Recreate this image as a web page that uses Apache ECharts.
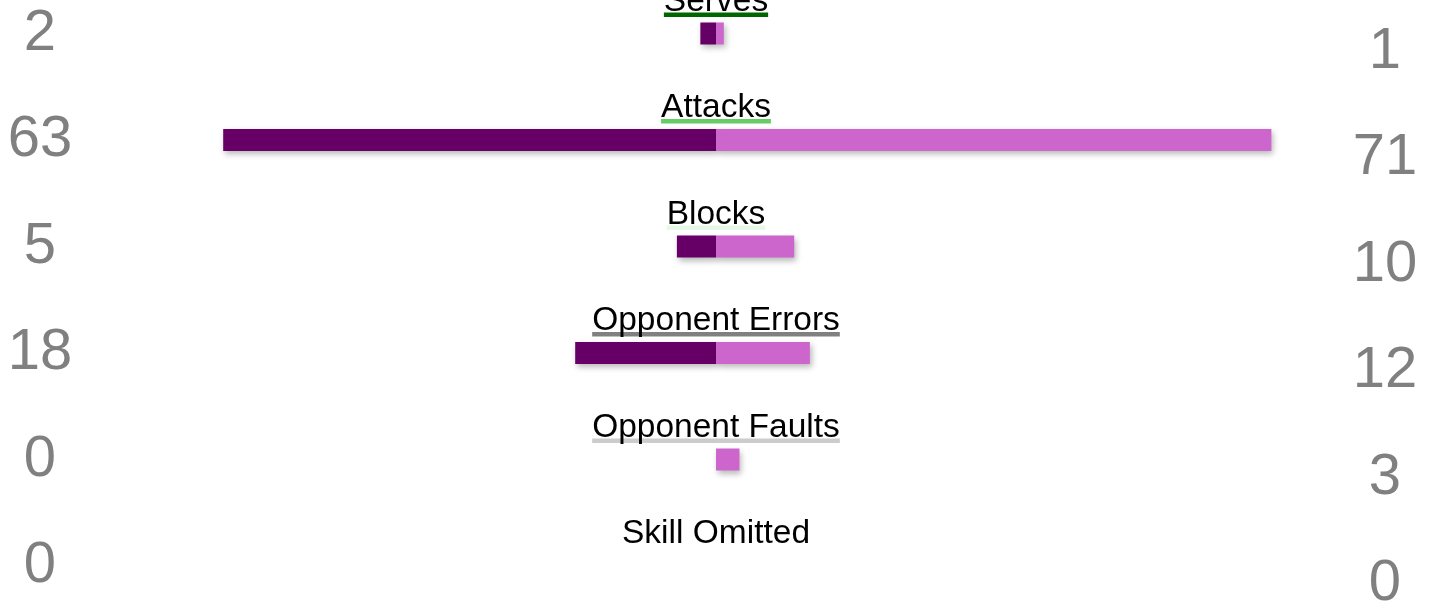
<!DOCTYPE html>
<html>
<head>
<meta charset="utf-8">
<style>
  html, body { margin: 0; padding: 0; background: #fff; }
  #chart { width: 1442px; height: 611px; }
</style>
<script src="https://cdn.jsdelivr.net/npm/echarts@6/dist/echarts.min.js"></script>
</head>
<body>
<div id="chart"></div>
<script>
// skill categories, top to bottom
const skills = ['Serves', 'Attacks', 'Blocks', 'Opponent Errors', 'Opponent Faults', 'Skill Omitted']
// left team (dark) and right team (light) points per skill
const homeValues = [2, 63, 5, 18, 0, 0]
const awayValues = [1, 71, 10, 12, 3, 0]
// underline colour under each skill name
const underlineColors = ['#006600', '#66cc66', '#e6f8e6', '#808080', '#cccccc', null]

const labelFont = '33.5px "Liberation Sans", Arial, sans-serif'
const measureCtx = document.createElement('canvas').getContext('2d')
measureCtx.font = labelFont
const textWidth = (t) => measureCtx.measureText(t).width

const barShadow = {
  shadowColor: 'rgba(0,0,0,0.28)',
  shadowBlur: 6,
  shadowOffsetX: 2,
  shadowOffsetY: 3
}

const chart = echarts.init(document.getElementById('chart'))

const option = {
  animation: false,
  grid: { left: 12, width: 1408, top: 33.5, bottom: 45, outerBoundsMode: 'none', containLabel: false },
  xAxis: {
    type: 'value',
    min: -90,
    max: 90,
    show: false
  },
  yAxis: [
    {
      type: 'category',
      data: skills,
      inverse: true,
      boundaryGap: false,
      axisLine: { show: false },
      axisTick: { show: false },
      splitLine: { show: false },
      axisLabel: {
        margin: -28,
        align: 'center',
        verticalAlign: 'middle',
        color: '#808080',
        fontSize: 58,
        fontFamily: '"Liberation Sans", Arial, sans-serif',
        formatter: (v, i) => String(homeValues[i])
      }
    },
    {
      type: 'category',
      data: skills,
      inverse: true,
      boundaryGap: false,
      position: 'right',
      axisLine: { show: false },
      axisTick: { show: false },
      splitLine: { show: false },
      axisLabel: {
        // right numbers sit a bit lower than the bars
        margin: -35,
        align: 'center',
        verticalAlign: 'middle',
        lineHeight: 36,
        color: '#808080',
        fontSize: 58,
        fontFamily: '"Liberation Sans", Arial, sans-serif',
        formatter: (v, i) => '\n' + awayValues[i]
      }
    }
  ],
  series: [
    {
      name: 'Home',
      type: 'bar',
      barWidth: 22,
      barGap: '-100%',
      data: homeValues.map(v => (v ? -v : '-')),
      itemStyle: Object.assign({ color: '#660066' }, barShadow)
    },
    {
      name: 'Away',
      type: 'bar',
      barWidth: 22,
      barGap: '-100%',
      data: awayValues.map(v => (v ? v : '-')),
      itemStyle: Object.assign({ color: '#cc66cc' }, barShadow)
    },
    {
      // skill names with coloured underline, centred over the zero line
      type: 'custom',
      clip: false,
      silent: true,
      data: skills.map((s, i) => [0, i]),
      renderItem: (params, api) => {
        const i = api.value(1)
        const p = api.coord([0, i])
        const w = textWidth(skills[i])
        const children = []
        if (underlineColors[i]) {
          children.push({
            type: 'rect',
            shape: { x: p[0] - w / 2, y: p[1] - 21, width: w, height: 4.5 },
            style: { fill: underlineColors[i] }
          })
        }
        children.push({
          type: 'text',
          x: p[0],
          y: p[1] - 32,
          style: {
            text: skills[i],
            font: labelFont,
            fill: '#000',
            align: 'center',
            verticalAlign: 'middle'
          }
        })
        return { type: 'group', children }
      }
    }
  ]
}

option && chart.setOption(option)
</script>
</body>
</html>
